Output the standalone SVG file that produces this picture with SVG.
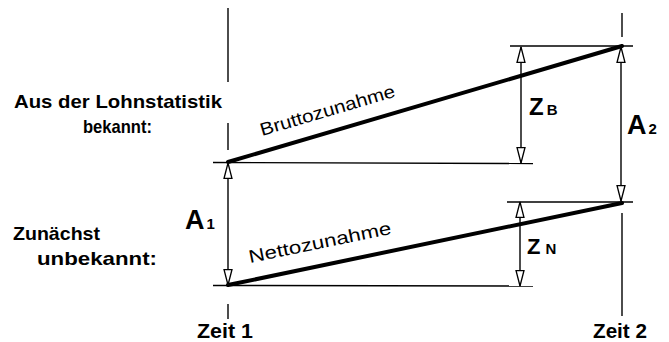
<svg xmlns="http://www.w3.org/2000/svg" width="669" height="342" viewBox="0 0 669 342">
<style>
.thin{stroke:#000;stroke-width:1.4;fill:none}
.thick{stroke:#000;stroke-width:4;fill:none;stroke-linecap:round}
.arr{stroke:#000;stroke-width:1.4;fill:none;marker-start:url(#ah);marker-end:url(#ah)}
.lbl{font-family:"Liberation Sans",Arial,sans-serif;font-weight:bold;fill:#000}
.slope{font-family:"Liberation Sans",Arial,sans-serif;font-size:18px;fill:#000}
</style>
<defs>
<marker id="ah" markerUnits="userSpaceOnUse" markerWidth="17" markerHeight="10" viewBox="0 0 17 10" refX="16.3" refY="5" orient="auto-start-reverse">
<path d="M0.8,1 L16.3,5 L0.8,9 Z" fill="#fff" stroke="#000" stroke-width="1.3" stroke-linejoin="miter"/>
</marker>
</defs>
<rect width="669" height="342" fill="#fff"/>
<g id="connectors">
<line class="thin" x1="228" y1="8" x2="228" y2="82"/>
<line class="thin" x1="228" y1="123" x2="228" y2="150"/>
<line class="thin" x1="228" y1="304" x2="228" y2="319"/>
<line class="thin" x1="622" y1="13" x2="622" y2="37"/>
<line class="thin" x1="622" y1="213" x2="622" y2="316"/>
<line class="thin" x1="510" y1="46" x2="633" y2="46"/>
<line class="thin" x1="213" y1="162.5" x2="533" y2="163.5"/>
<line class="thin" x1="507" y1="202" x2="633" y2="202"/>
<line class="thin" x1="213" y1="285.5" x2="533" y2="286"/>
<line class="thick" x1="228" y1="162" x2="622" y2="46"/>
<line class="thick" x1="228" y1="285" x2="622" y2="203"/>
<line class="arr" x1="228" y1="163" x2="228" y2="285"/>
<line class="arr" x1="521" y1="47" x2="521" y2="163"/>
<line class="arr" x1="621" y1="47" x2="621" y2="201"/>
<line class="arr" x1="520" y1="202" x2="520" y2="286"/>
</g>
<g id="brutto">
<text class="slope" transform="translate(262,136) rotate(-16.4)" textLength="140" lengthAdjust="spacingAndGlyphs">Bruttozunahme</text>
</g>
<g id="netto">
<text class="slope" transform="translate(250,263) rotate(-11.6)" textLength="145" lengthAdjust="spacingAndGlyphs">Nettozunahme</text>
</g>
<g id="bekannt">
<text class="lbl" x="14" y="108" font-size="19" textLength="208" lengthAdjust="spacingAndGlyphs">Aus der Lohnstatistik</text>
<text class="lbl" x="83" y="133" font-size="19" textLength="69" lengthAdjust="spacingAndGlyphs">bekannt:</text>
</g>
<g id="unbekannt">
<text class="lbl" x="13" y="240" font-size="19" textLength="87" lengthAdjust="spacingAndGlyphs">Zunächst</text>
<text class="lbl" x="37" y="265" font-size="19" textLength="120" lengthAdjust="spacingAndGlyphs">unbekannt:</text>
</g>
<g id="A1">
<text class="lbl" x="185" y="229" font-size="27">A<tspan font-size="15" dx="2">1</tspan></text>
</g>
<g id="ZB">
<text class="lbl" x="529" y="115" font-size="24">Z<tspan font-size="15" dx="3">B</tspan></text>
</g>
<g id="A2">
<text class="lbl" x="627" y="134" font-size="27">A<tspan font-size="15" dx="2">2</tspan></text>
</g>
<g id="ZN">
<text class="lbl" x="527" y="254" font-size="22">Z<tspan font-size="15" dx="5">N</tspan></text>
</g>
<g id="zeit1">
<text class="lbl" x="197" y="338" font-size="20" textLength="56" lengthAdjust="spacingAndGlyphs">Zeit 1</text>
</g>
<g id="zeit2">
<text class="lbl" x="593" y="338" font-size="20" textLength="54" lengthAdjust="spacingAndGlyphs">Zeit 2</text>
</g>
</svg>
